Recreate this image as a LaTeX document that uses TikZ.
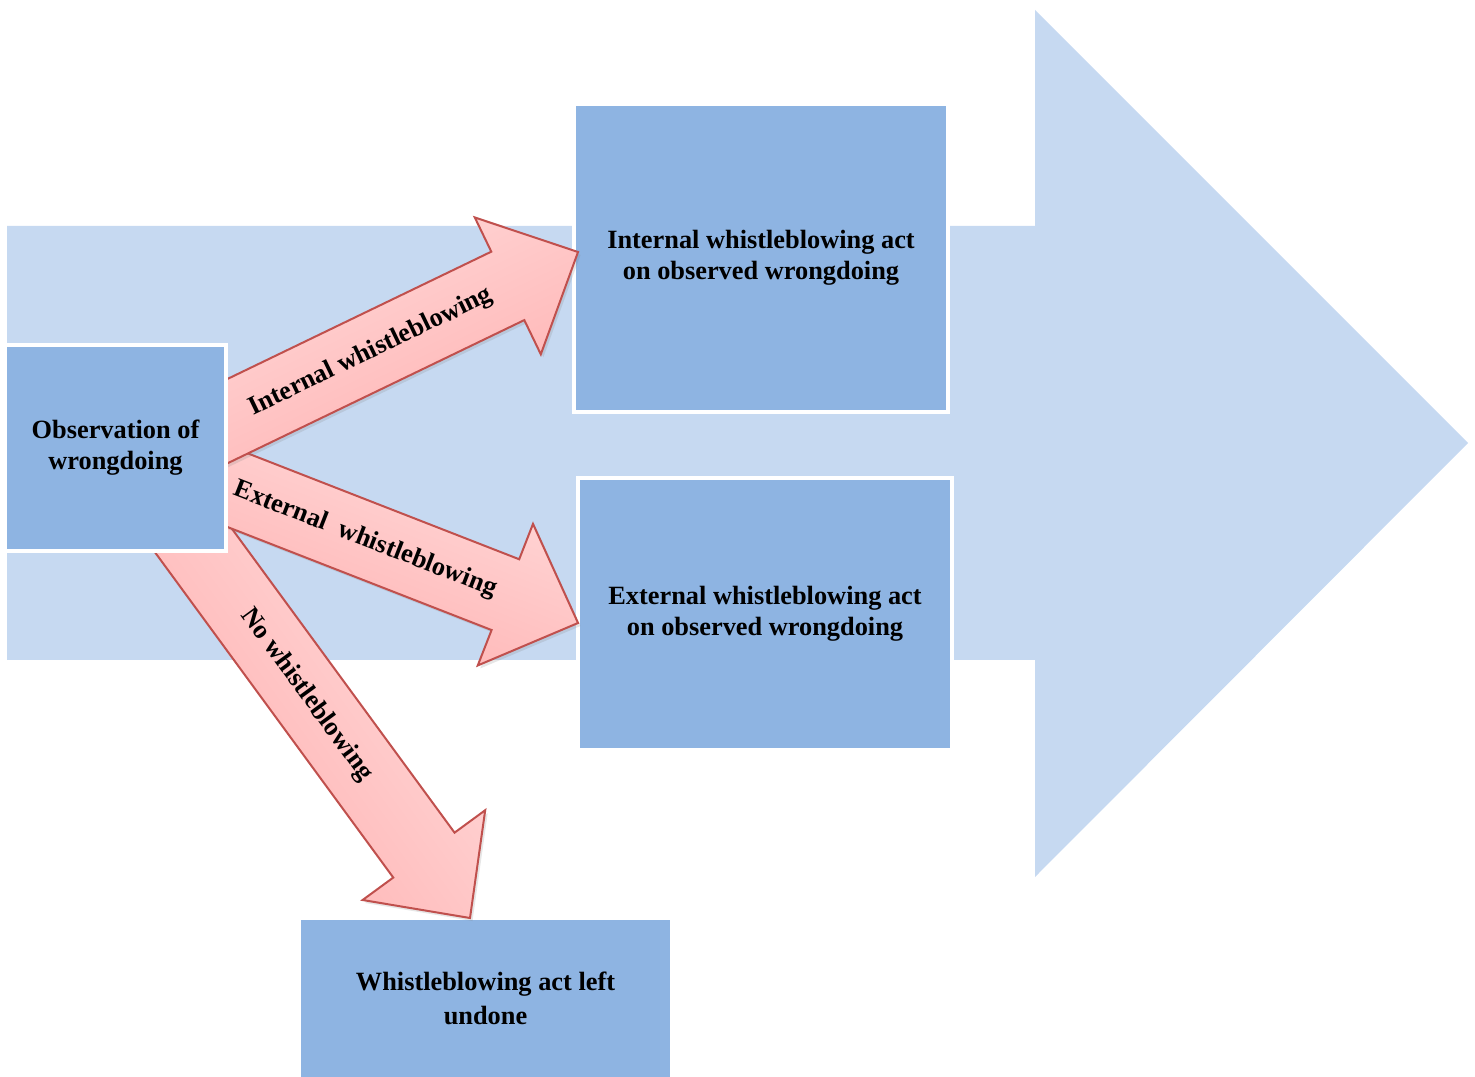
\documentclass[tikz,border=0pt]{standalone}
\usepackage{fontspec}
\setmainfont{Liberation Serif}
\usepackage{xcolor}
\usepackage{tikz}
\usetikzlibrary{calc}
\usetikzlibrary{shadows}
\usetikzlibrary{positioning}

\definecolor{bgblue}{HTML}{C6D9F1}
\definecolor{boxblue}{HTML}{8EB4E2}
\definecolor{arrowline}{HTML}{C0504D}
\definecolor{pinklight}{HTML}{FFDCDC}
\definecolor{pinkdark}{HTML}{FFAFAF}

\begin{document}
\begin{tikzpicture}[x=0.02cm,y=-0.02cm]
    \tikzstyle{every node}=[font=\fontsize{15}{17.6}\selectfont\bfseries,align=center]
    \tikzstyle{box}=[draw=white,line width=0.08cm,fill=boxblue]
    \tikzstyle{redarrow}=[draw=arrowline,line width=0.04cm,top color=pinklight,bottom color=pinkdark,
      drop shadow={opacity=0.2,shadow xshift=0.05cm,shadow yshift=-0.06cm}]

   \useasboundingbox (0,0) rectangle (1475,1077);

   % big arrow in the back
   \fill[bgblue] (7,226) -- (1035,226) -- (1035,10) -- (1468,443) -- (1035,877) -- (1035,660) -- (7,660) -- cycle;

   \node[box,minimum width=7.48cm,minimum height=6.16cm] (int) at (761,258) {Internal whistleblowing act\\on observed wrongdoing};
   \node[box,minimum width=7.48cm,minimum height=5.44cm] (ext) at (765,614) {External whistleblowing act\\on observed wrongdoing};
   \node[box,draw=none,minimum width=7.38cm,minimum height=3.14cm] (und) at (485.5,998.5) {Whistleblowing act left\\[2pt]undone};

   \def\sw{0.76cm};
   \def\hw{1.52cm};
   \def\hl{1.56cm};

   % #1 tail, #2 tip, #3 angle of the shading
   \def\fatarrow#1#2#3{
     \coordinate (hb) at ($(#2)!\hl!(#1)$);
     \filldraw[redarrow,shading angle=#3]
       ($(#1)!\sw!90:(#2)$) -- ($(hb)!\sw!90:(#2)$) -- ($(hb)!\hw!90:(#2)$) -- (#2)
       -- ($(hb)!\hw!-90:(#2)$) -- ($(hb)!\sw!-90:(#2)$) -- ($(#1)!\sw!-90:(#2)$) -- cycle;
   }

   \coordinate (t_no) at (175.5,516);
   \coordinate (p_no) at ($(und.north)+(-15.5,0)$);
   \fatarrow{t_no}{p_no}{-54}
   \path (t_no) -- (p_no) node[pos=0.445,sloped] (l_no) {No whistleblowing};

   \coordinate (t_ext) at (150,456);
   \coordinate (p_ext) at ($(ext.west)+(2,9)$);
   \fatarrow{t_ext}{p_ext}{-21.2}
   \path (t_ext) -- (p_ext) node[pos=0.503,sloped] (l_ext) {External\ \ whistleblowing};

   \coordinate (t_int) at (149,459);
   \coordinate (p_int) at ($(int.west)+(6,-6)$);
   \fatarrow{t_int}{p_int}{25.6}
   \path (t_int) -- (p_int) node[pos=0.517,sloped] (l_int) {Internal whistleblowing};

   \node[box,minimum width=4.42cm,minimum height=4.12cm] (obs) at (115.5,448) {Observation of\\wrongdoing};

\end{tikzpicture}
\end{document}
